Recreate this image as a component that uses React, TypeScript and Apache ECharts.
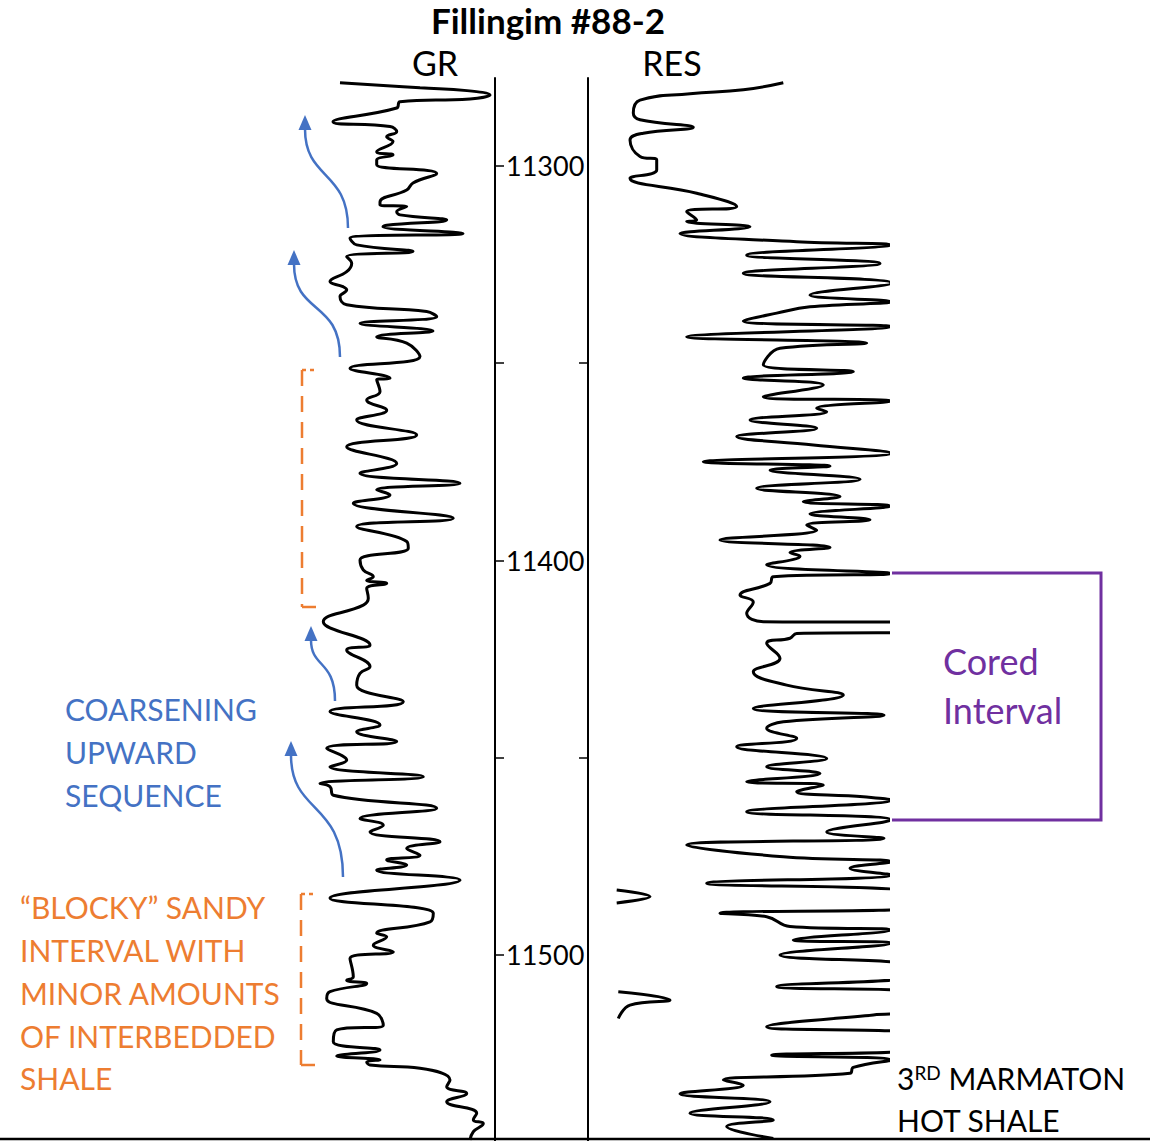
import React, { useEffect, useRef } from "react";
import * as echarts from "echarts";

const DEPTH_MIN = 11277.7;
const DEPTH_MAX = 11547.15;
const TICK_DEPTHS = [11300, 11350, 11400, 11450, 11500];
const LABEL_DEPTHS = [11300, 11400, 11500];

const GR_DEPTH = [
  11278.9, 11280.2, 11280.9, 11282.0, 11283.0, 11283.7, 11285.3, 11288.8, 11290.0, 11291.3,
  11292.6, 11293.8, 11296.4, 11297.2, 11298.5, 11299.7, 11301.9, 11304.3, 11306.1, 11309.1,
  11309.9, 11310.3, 11311.6, 11312.4, 11313.7, 11315.0, 11315.4, 11317.1, 11318.3, 11320.0,
  11321.7, 11323.0, 11324.7, 11326.8, 11329.3, 11330.6, 11331.4, 11333.1, 11335.2, 11336.9,
  11338.2, 11339.9, 11341.8, 11343.3, 11344.9, 11348.3, 11351.3, 11353.8, 11354.2, 11357.2,
  11359.3, 11361.9, 11364.4, 11368.2, 11371.2, 11375.4, 11377.9, 11380.4, 11382.1, 11383.4,
  11385.5, 11389.3, 11391.4, 11395.2, 11396.9, 11399.9, 11402.4, 11404.1, 11405.0, 11405.8,
  11407.1, 11409.6, 11411.3, 11415.5, 11421.4, 11422.7, 11426.9, 11428.6, 11431.6, 11435.8,
  11438.3, 11441.7, 11443.4, 11445.9, 11447.6, 11450.6, 11452.3, 11454.8, 11456.5, 11457.3,
  11459.5, 11462.8, 11465.4, 11467.1, 11468.8, 11471.3, 11473.0, 11474.7, 11475.9, 11477.2,
  11478.5, 11481.0, 11485.6, 11489.4, 11491.6, 11494.5, 11495.4, 11497.5, 11499.2, 11500.9,
  11505.5, 11506.4, 11507.2, 11509.3, 11511.0, 11514.8, 11517.8, 11519.0, 11522.0, 11524.1,
  11525.6, 11526.6, 11527.1, 11527.9, 11528.7, 11531.7, 11533.4, 11535.1, 11537.2, 11540.1,
  11541.8, 11542.7, 11544.8, 11546.9,
];
const GR_VALUE = [
  45, 125, 172, 195, 175, 105, 101.7, 38, 95, 101.7,
  91.7, 98, 81.7, 98, 81.7, 81.7, 141.7, 118, 111.7, 85,
  85, 111.7, 101.7, 105, 151.7, 91.7, 88, 168, 55, 61.7,
  118, 51.7, 56.7, 51.7, 35, 48, 51.7, 45, 51.7, 131.7,
  141.7, 65, 138, 81.7, 111.7, 125, 55, 95, 81.7, 85,
  71.7, 91.7, 61.7, 121.7, 51.7, 101.7, 65, 165, 81.7, 95,
  58.3, 158.3, 61.7, 111.7, 113.3, 65, 68.3, 78.3, 71.7, 91.7,
  71.7, 73.3, 68.3, 28.3, 75, 51.7, 75, 65, 61.7, 108.3,
  35, 85, 61.7, 101.7, 31.7, 51.7, 35, 128.3, 25, 35,
  38.3, 141.7, 65, 88.3, 75, 145, 111.7, 125, 91.7, 111.7,
  81.7, 165, 35, 138.3, 135, 81.7, 91.7, 78.3, 98.3, 55,
  58.3, 51.7, 71.7, 35, 31.7, 81.7, 88.3, 41.7, 38.3, 85,
  41.7, 85, 71.7, 75, 125, 155, 151.7, 171.7, 151.7, 181.7,
  178.3, 188.3, 178.3, 175,
];

const RES_DEPTH = [
  11278.9, 11280.7, 11281.7, 11283.3, 11286.6, 11288.3, 11290.2, 11291.7, 11293.4, 11297.6,
  11298.5, 11301.0, 11303.1, 11306.9, 11310.3, 11311.6, 11313.7, 11314.1, 11315.4, 11317.1,
  11319.2, 11320.0, 11322.6, 11324.7, 11327.2, 11329.7, 11332.7, 11334.4, 11335.7, 11337.3,
  11339.3, 11340.7, 11343.3, 11344.9, 11346.2, 11350.4, 11352.1, 11353.8, 11355.5, 11358.5,
  11359.6, 11361.4, 11362.3, 11364.4, 11366.5, 11368.6, 11370.7, 11372.8, 11375.0, 11376.1,
  11377.1, 11379.4, 11381.7, 11383.8, 11385.1, 11386.2, 11388.2, 11389.7, 11391.0, 11392.3,
  11394.8, 11396.7, 11398.0, 11398.9, 11401.1, 11403.3, 11404.1, 11405.8, 11408.8, 11410.5,
  11413.4, 11415.5, 11415.7, 11418.2, 11418.5, 11419.7, 11421.0, 11424.8, 11428.2, 11431.6,
  11434.1, 11437.5, 11439.2, 11440.9, 11442.5, 11445.1, 11447.2, 11450.2, 11452.3, 11454.0,
  11456.1, 11456.9, 11458.6, 11459.9, 11460.7, 11463.7, 11465.8, 11468.8, 11470.4, 11472.1,
  11475.1, 11476.4, 11478.0, 11479.7, 11481.8, 11484.5, 11487.8, 11489.4, 11490.3, 11492.8,
  11493.7, 11496.2, 11497.0, 11500.0, 11503.0, 11505.1, 11508.0, 11509.7, 11514.4, 11515.2,
  11518.2, 11520.3, 11523.7, 11525.4, 11526.6, 11528.5, 11530.0, 11531.7, 11533.0, 11535.2,
  11537.2, 11540.1, 11541.8, 11543.5, 11546.5,
];
const RES_VALUE = [
  195.3, 155.3, 102, 52, 45.3, 52, 105.3, 55.3, 42, 52,
  68.7, 68.7, 42, 108.7, 148.7, 98.7, 108.7, 98.7, 162, 92,
  208.7, 303, 158.7, 292, 155.3, 303, 222, 303, 222, 188.7,
  155.3, 303, 98.7, 278.7, 192, 175.3, 265.3, 155.3, 235.3, 175.3,
  303, 228.7, 238.7, 162, 228.7, 148.7, 225.3, 303, 115.3, 242,
  182, 272, 168.7, 252, 215.3, 303, 222, 282, 218.7, 228.7,
  132, 242, 202, 212, 178.7, 303, 185.3, 182, 152, 165.3,
  158.7, 175.3, 330, 330, 208.7, 202, 178.7, 192, 165.3, 198.7,
  255.3, 165.3, 296, 195.3, 178.7, 208.7, 148.7, 238.7, 178.7, 232,
  158.7, 235.3, 208.7, 275.3, 303, 158.7, 303, 238.7, 296, 98.7,
  195.3, 303, 262, 303, 118.7, 330, 330, 132, 178.7, 202,
  303, 205.3, 303, 192, 330, 330, 188.7, 330, 330, 285.3,
  178.7, 330, 330, 183.7, 303, 265.3, 262, 135.3, 155.3, 92,
  182, 102, 185.3, 138.7, 185.3,
];

const RES_FRAG1_DEPTH = [11483.5, 11485.2, 11486.8];
const RES_FRAG1_VALUE = [28.7, 62, 28.7];
const RES_FRAG2_DEPTH = [11509.3, 11511.4, 11512.7, 11516.1];
const RES_FRAG2_VALUE = [30.3, 82, 42, 30.3];

const BLUE = "#4472C4";
const ORANGE = "#ED7D31";
const PURPLE = "#7030A0";
const FONT = "Lato, 'Open Sans', sans-serif";

const pair = (d: number[], v: number[]) => d.map((dd, i) => [v[i], dd]);

function arrow(x1: number, y1: number, cx1: number, cy1: number, cx2: number, cy2: number, x2: number, y2: number, tipY: number) {
  return [
    {
      type: "bezierCurve",
      shape: { x1, y1, cpx1: cx1, cpy1: cy1, cpx2: cx2, cpy2: cy2, x2, y2 },
      style: { stroke: BLUE, lineWidth: 2.5, fill: null },
    },
    {
      type: "polygon",
      shape: { points: [[x2, tipY], [x2 - 6.5, y2 + 1], [x2 + 6.5, y2 + 1]] },
      style: { fill: BLUE },
    },
  ];
}

function dashedBracket(x: number, y1: number, y2: number) {
  const st = { stroke: ORANGE, lineWidth: 2.5, lineDash: [16, 10] };
  return [
    { type: "line", shape: { x1: x, y1, x2: x + 14, y2: y1 }, style: { stroke: ORANGE, lineWidth: 2.5, lineDash: [4, 4] } },
    { type: "line", shape: { x1: x, y1, x2: x, y2 }, style: st },
    { type: "line", shape: { x1: x, y1: y2, x2: x + 14, y2 }, style: { stroke: ORANGE, lineWidth: 2.5 } },
  ];
}

function txt(x: number, y: number, text: string, color: string, size: number, extra: any = {}) {
  return {
    type: "text",
    x,
    y,
    style: { text, fill: color, font: `${size}px ${FONT}`, textVerticalAlign: "middle", ...extra },
  };
}

export default function App() {
  const ref = useRef<HTMLDivElement>(null);
  useEffect(() => {
    if (!ref.current) return;
    const chart = echarts.init(ref.current, null, { renderer: "svg" });
    const yBase = { type: "value", inverse: true, min: DEPTH_MIN, max: DEPTH_MAX, show: false };
    const lineBase = {
      type: "line", showSymbol: false, symbol: "none", smooth: 0.45, clip: true,
      lineStyle: { color: "#000", width: 3 },
    };

    chart.setOption({
      animation: false,
      backgroundColor: "#fff",
      grid: [
        { left: 295, top: 78, width: 200, height: 1063 },
        { left: 588, top: 78, width: 300, height: 1063 },
        { left: 495, top: 78, width: 93, height: 1063 },
      ],
      xAxis: [
        { type: "value", gridIndex: 0, min: 0, max: 200, show: false },
        { type: "value", gridIndex: 1, min: 0, max: 300, show: false },
        { type: "value", gridIndex: 2, min: 0, max: 1, show: false },
      ],
      yAxis: [
        { ...yBase, gridIndex: 0 },
        { ...yBase, gridIndex: 1 },
        {
          type: "value", gridIndex: 2, inverse: true, min: DEPTH_MIN, max: DEPTH_MAX, position: "left",
          splitLine: { show: false },
          axisLine: { show: true, lineStyle: { color: "#000", width: 2 } },
          axisTick: { show: true, inside: true, length: 9, customValues: TICK_DEPTHS, lineStyle: { color: "#000", width: 1.5 } },
          axisLabel: {
            show: true, inside: true, margin: 11, customValues: LABEL_DEPTHS, color: "#000", fontSize: 27, fontFamily: FONT,
            formatter: (v: number) => String(Math.round(v)),
          },
        },
        {
          type: "value", gridIndex: 2, inverse: true, min: DEPTH_MIN, max: DEPTH_MAX, position: "right",
          splitLine: { show: false },
          axisLine: { show: true, lineStyle: { color: "#000", width: 2 } },
          axisTick: { show: true, inside: true, length: 9, customValues: [11350, 11450], lineStyle: { color: "#000", width: 1.5 } },
          axisLabel: { show: false },
        },
      ],
      series: [
        { ...lineBase, name: "GR", xAxisIndex: 0, yAxisIndex: 0, data: pair(GR_DEPTH, GR_VALUE) },
        { ...lineBase, name: "RES", xAxisIndex: 1, yAxisIndex: 1, data: pair(RES_DEPTH, RES_VALUE) },
        { ...lineBase, name: "RES2a", xAxisIndex: 1, yAxisIndex: 1, data: pair(RES_FRAG1_DEPTH, RES_FRAG1_VALUE) },
        { ...lineBase, name: "RES2b", xAxisIndex: 1, yAxisIndex: 1, data: pair(RES_FRAG2_DEPTH, RES_FRAG2_VALUE) },
      ],
      graphic: [
        {
          type: "text", x: 548, y: 20,
          style: { text: "Fillingim #88-2", fill: "#000", font: `bold 35px ${FONT}`, textAlign: "center", textVerticalAlign: "middle" },
        },
        { type: "text", x: 435, y: 62, style: { text: "GR", fill: "#000", font: `34px ${FONT}`, textAlign: "center", textVerticalAlign: "middle" } },
        { type: "text", x: 672, y: 62, style: { text: "RES", fill: "#000", font: `34px ${FONT}`, textAlign: "center", textVerticalAlign: "middle" } },
        { type: "line", shape: { x1: 0, y1: 1139, x2: 1150, y2: 1139 }, style: { stroke: "#000", lineWidth: 2.5 } },
        ...arrow(348, 228, 348, 170, 305, 180, 305, 129, 115),
        ...arrow(340, 357, 340, 300, 294, 315, 294, 264, 250),
        ...arrow(335, 701, 335, 660, 311, 668, 311, 640, 626),
        ...arrow(343, 877, 343, 800, 291, 815, 291, 755, 741),
        ...dashedBracket(302, 370, 607),
        ...dashedBracket(301, 894, 1065),
        { type: "polyline", shape: { points: [[892, 573], [1101, 573], [1101, 820], [892, 820]] }, style: { stroke: PURPLE, lineWidth: 3, fill: null } },
        txt(943, 661, "Cored", PURPLE, 36),
        txt(943, 710, "Interval", PURPLE, 36),
        txt(65, 709, "COARSENING", BLUE, 30),
        txt(65, 752, "UPWARD", BLUE, 30),
        txt(65, 795, "SEQUENCE", BLUE, 30),
        txt(20, 907, "\u201CBLOCKY\u201D SANDY", ORANGE, 30),
        txt(20, 950, "INTERVAL WITH", ORANGE, 30),
        txt(20, 993, "MINOR AMOUNTS", ORANGE, 30),
        txt(20, 1036, "OF INTERBEDDED", ORANGE, 30),
        txt(20, 1078, "SHALE", ORANGE, 30),
        {
          type: "text", x: 897, y: 1078,
          style: {
            text: "{a|3}{s|RD}{a| MARMATON}",
            textVerticalAlign: "middle",
            rich: {
              a: { fill: "#000", font: `30px ${FONT}`, verticalAlign: "bottom" },
              s: { fill: "#000", font: `19px ${FONT}`, verticalAlign: "top" },
            },
          },
        },
        txt(897, 1120, "HOT SHALE", "#000", 30),
      ],
    });
    return () => chart.dispose();
  }, []);
  return <div ref={ref} style={{ position: "fixed", left: 0, top: 0, width: 1150, height: 1141, background: "#fff" }} />;
}
